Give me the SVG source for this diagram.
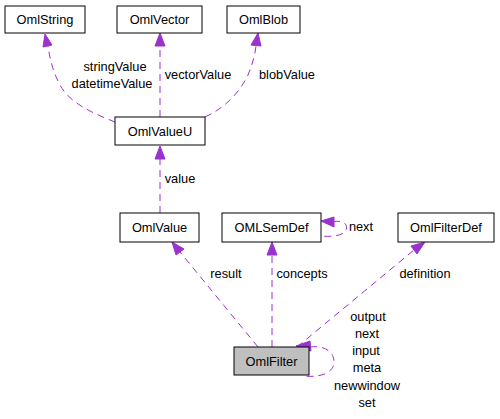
<svg xmlns="http://www.w3.org/2000/svg" width="500" height="419" viewBox="0 0 500 419">
<style>
.box{fill:#fff;stroke:#000;stroke-width:1}
.t{font-family:"Liberation Sans",Arial,sans-serif;font-size:12.8px;fill:#000;text-anchor:middle}
.e{fill:none;stroke:#9a32cd;stroke-width:1;stroke-dasharray:7,5}
.ah{fill:#9a32cd;stroke:#9a32cd}
</style>
<rect width="500" height="419" fill="#fff"/>
<g id="edges">
<path class="e" d="M115,122 C95,114 70,104 60,85 C53,72 50,60 48,46"/>
<polygon class="ah" points="45,34 43,47 52,45"/>
<path class="e" d="M160,117 L160,46"/>
<polygon class="ah" points="160,33 155,46 165,46"/>
<path class="e" d="M205,117 C225,108 240,92 248,75 C252,65 255,56 256,46"/>
<polygon class="ah" points="258,33 251,45 261,46"/>
<path class="e" d="M160,213 L160,159"/>
<polygon class="ah" points="160,146 155,159 165,159"/>
<path class="e" d="M258,347 L180,252"/>
<polygon class="ah" points="172,242 176,255 184,249"/>
<path class="e" d="M272,347 L272,255"/>
<polygon class="ah" points="272,242 267,255 277,255"/>
<path class="e" d="M297,347 L414,250"/>
<polygon class="ah" points="425,242 411,246 417,254"/>
<path class="e" d="M333,222 C345,219 348,226 346,230 C343,236 332,237 321,236"/>
<polygon class="ah" points="321,221 334,217 334,227"/>
<path class="e" d="M310,347 C325,345 334,352 334,362 C334,372 322,378 303,376"/>
<polygon class="ah" points="296,346 310,341 311,351"/>
</g>
<g id="OmlString"><rect class="box" x="5" y="6" width="80" height="27"/><text class="t" x="45" y="24">OmlString</text></g>
<g id="OmlVector"><rect class="box" x="117" y="6" width="85" height="27"/><text class="t" x="159.5" y="24">OmlVector</text></g>
<g id="OmlBlob"><rect class="box" x="227" y="6" width="73" height="27"/><text class="t" x="263.5" y="24">OmlBlob</text></g>
<g id="OmlValueU"><rect class="box" x="115" y="117" width="90" height="28"/><text class="t" x="160" y="135.5">OmlValueU</text></g>
<g id="OmlValue"><rect class="box" x="120" y="213" width="79" height="29"/><text class="t" x="159.5" y="232">OmlValue</text></g>
<g id="OMLSemDef"><rect class="box" x="222" y="213" width="99" height="29"/><text class="t" x="271.5" y="232">OMLSemDef</text></g>
<g id="OmlFilterDef"><rect class="box" x="398" y="213" width="96" height="29"/><text class="t" x="446" y="232">OmlFilterDef</text></g>
<g id="OmlFilter"><rect class="box" x="234" y="347" width="75" height="28" fill="#bfbfbf" style="fill:#bfbfbf"/><text class="t" x="271.5" y="365.5">OmlFilter</text></g>
<g id="labels">
<text class="t" x="115" y="71">stringValue</text>
<text class="t" x="112" y="88">datetimeValue</text>
<text class="t" x="198" y="79">vectorValue</text>
<text class="t" x="287" y="79">blobValue</text>
<text class="t" x="180" y="183">value</text>
<text class="t" x="361" y="231">next</text>
<text class="t" x="226" y="278">result</text>
<text class="t" x="302" y="278">concepts</text>
<text class="t" x="425" y="278">definition</text>
<text class="t" x="368" y="321">output</text>
<text class="t" x="367" y="338">next</text>
<text class="t" x="366" y="355">input</text>
<text class="t" x="367" y="372">meta</text>
<text class="t" x="367" y="390">newwindow</text>
<text class="t" x="367" y="407">set</text>
</g>
</svg>
